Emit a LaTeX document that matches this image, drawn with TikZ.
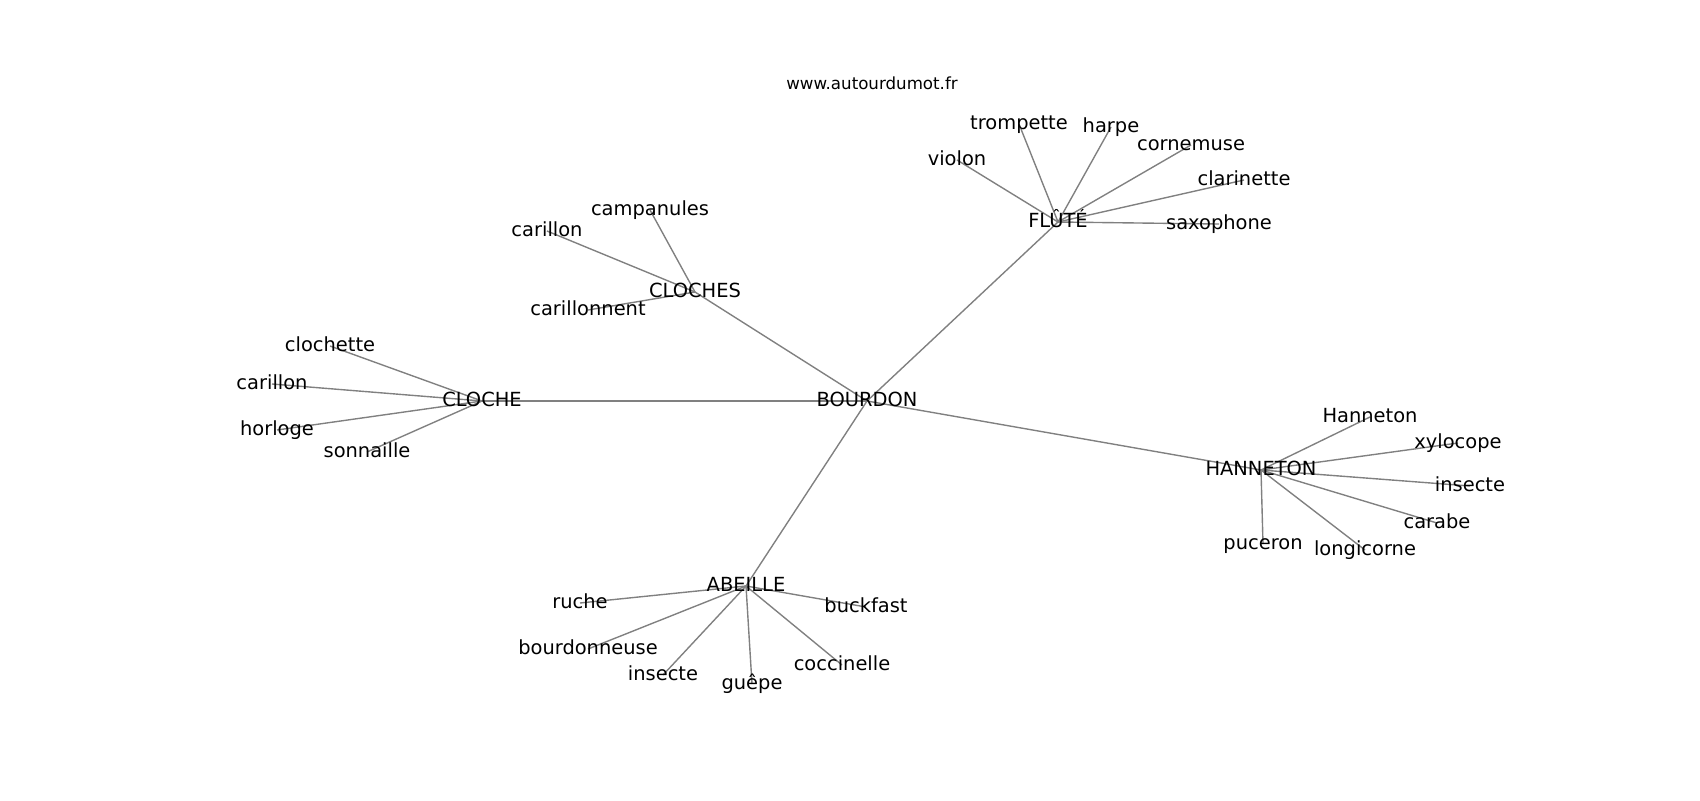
\documentclass[tikz,border=0pt]{standalone}
\usepackage{fontspec}
\setmainfont{DejaVu Sans}
\usetikzlibrary{backgrounds}
\tikzset{
  lbl/.style={inner sep=0pt, outer sep=0pt, anchor=center, font=\fontsize{14pt}{16pt}\selectfont, text height=0.96em, text depth=0.1em},
  ttl/.style={inner sep=0pt, outer sep=0pt, anchor=center, font=\fontsize{12pt}{14pt}\selectfont, text height=1.0em, text depth=0.09em},
  edge/.style={draw=gray, line width=1pt}
}
\begin{document}
\begin{tikzpicture}[x=0.72pt, y=-0.72pt]
\useasboundingbox (0,0) rectangle (1700,800);
\node[ttl] (title) at (872,83) {www.autourdumot.fr};
% hubs
\node[lbl] (bourdon) at (867,401) {BOURDON};
\node[lbl] (flute) at (1058,222) {FLÛTÉ};
\node[lbl] (cloches) at (695,292) {CLOCHES};
\node[lbl] (cloche) at (482,401) {CLOCHE};
\node[lbl] (hanneton) at (1261,470) {HANNETON};
\node[lbl] (abeille) at (746,586) {ABEILLE};
% flute
\node[lbl] (violon) at (957,160) {violon};
\node[lbl] (trompette) at (1019,124) {trompette};
\node[lbl] (harpe) at (1111,127) {harpe};
\node[lbl] (cornemuse) at (1191,145) {cornemuse};
\node[lbl] (clarinette) at (1244,180) {clarinette};
\node[lbl] (saxophone) at (1219,224) {saxophone};
% cloches
\node[lbl] (campanules) at (650,210) {campanules};
\node[lbl] (carillonA) at (547,231) {carillon};
\node[lbl] (carillonnent) at (588,310) {carillonnent};
% cloche
\node[lbl] (clochette) at (330,346) {clochette};
\node[lbl] (carillonB) at (272,384) {carillon};
\node[lbl] (horloge) at (277,430) {horloge};
\node[lbl] (sonnaille) at (367,452) {sonnaille};
% hanneton
\node[lbl] (Hanneton) at (1370,417) {Hanneton};
\node[lbl] (xylocope) at (1458,443) {xylocope};
\node[lbl] (insecteA) at (1470,486) {insecte};
\node[lbl] (carabe) at (1437,523) {carabe};
\node[lbl] (puceron) at (1263,544) {puceron};
\node[lbl] (longicorne) at (1365,550) {longicorne};
% abeille
\node[lbl] (ruche) at (580,603) {ruche};
\node[lbl] (bourdonneuse) at (588,649) {bourdonneuse};
\node[lbl] (insecteB) at (663,675) {insecte};
\node[lbl] (guepe) at (752,684) {guêpe};
\node[lbl] (coccinelle) at (842,665) {coccinelle};
\node[lbl] (buckfast) at (866,607) {buckfast};
\begin{scope}[on background layer]
\foreach \a/\b in {bourdon/flute, bourdon/cloches, bourdon/cloche, bourdon/hanneton, bourdon/abeille,
  flute/violon, flute/trompette, flute/harpe, flute/cornemuse, flute/clarinette, flute/saxophone,
  cloches/campanules, cloches/carillonA, cloches/carillonnent,
  cloche/clochette, cloche/carillonB, cloche/horloge, cloche/sonnaille,
  hanneton/Hanneton, hanneton/xylocope, hanneton/insecteA, hanneton/carabe, hanneton/puceron, hanneton/longicorne,
  abeille/ruche, abeille/bourdonneuse, abeille/insecteB, abeille/guepe, abeille/coccinelle, abeille/buckfast}
  \draw[edge] (\a.center) -- (\b.center);
\end{scope}
\end{tikzpicture}
\end{document}
